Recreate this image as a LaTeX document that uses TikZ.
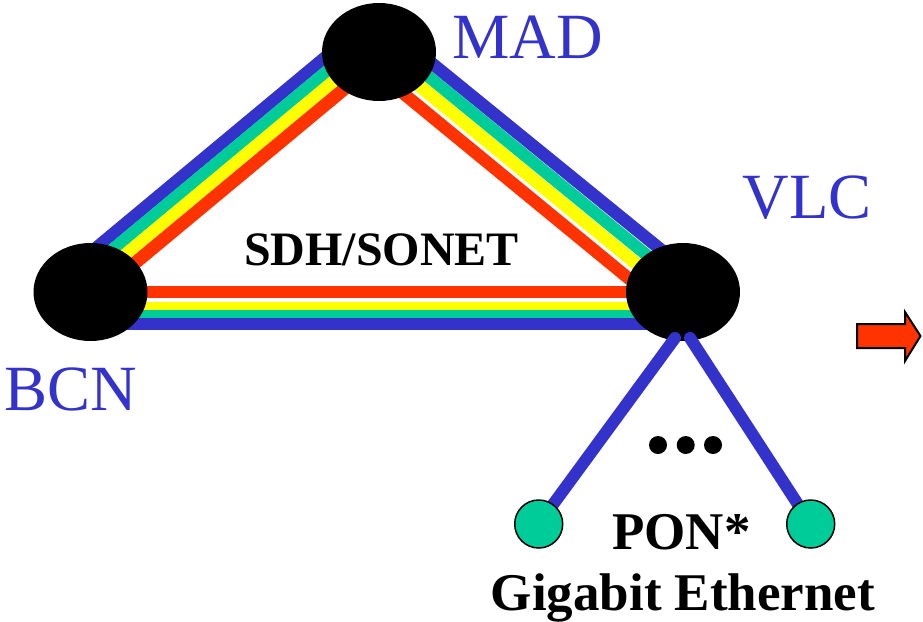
\documentclass[tikz,border=0pt]{standalone}
\usepackage{fontspec}
\setmainfont{Liberation Serif}
\usetikzlibrary{calc,shapes.geometric}
\definecolor{bandblue}{HTML}{3333CC}
\definecolor{bandgreen}{HTML}{00CC99}
\definecolor{bandyellow}{HTML}{FFFF00}
\definecolor{bandred}{HTML}{FF3300}
\pgfdeclarelayer{bands}
\pgfdeclarelayer{legs}
\pgfdeclarelayer{top}
\pgfsetlayers{bands,main,legs,top}
\tikzset{
  city/.style={ellipse,fill=black,inner sep=0pt,minimum width=114pt,minimum height=98pt},
  onu/.style={circle,draw=black,line width=1.5pt,fill=bandgreen,inner sep=0pt,minimum size=48pt},
  dotmark/.style={circle,fill=black,inner sep=0pt,minimum size=18pt},
  citylabel/.style={anchor=base,inner sep=0pt,text=bandblue,font=\fontsize{64.5}{64.5}\selectfont},
  boldlabel/.style={anchor=base,inner sep=0pt,text=black,font=\fontsize{53}{53}\selectfont\bfseries},
  band/.style={line width=#1},
  leg/.style={draw=bandblue,line width=12pt,line cap=round}
}
\newcommand{\bandAB}[6]{% from, to, offset at from, offset at to, width, colour
  \draw[band=#5,draw=#6] ($(#1.center)!#3pt!90:(#2.center)$) -- ($(#2.center)!#4pt!-90:(#1.center)$);}
\begin{document}
\begin{tikzpicture}[x=1pt,y=-1pt]
\useasboundingbox (0,0) rectangle (923,621);
\node[city] (MAD) at (379,52) {};
\node[city] (BCN) at (90.5,292) {};
\node[city] (VLC) at (683,292) {};
\begin{pgfonlayer}{bands}
  \bandAB{BCN}{MAD}{30.5}{30.5}{12}{bandblue}
  \bandAB{BCN}{MAD}{18.6}{18.6}{12}{bandgreen}
  \bandAB{BCN}{MAD}{6.6}{6.6}{12.3}{bandyellow}
  \bandAB{BCN}{MAD}{-6.2}{-6.2}{13}{bandred}
  \bandAB{MAD}{VLC}{24.6}{18.9}{12.5}{bandblue}
  \bandAB{MAD}{VLC}{12.3}{5.6}{12.2}{bandgreen}
  \bandAB{MAD}{VLC}{-0.4}{-7.75}{13}{bandyellow}
  \bandAB{MAD}{VLC}{-16.6}{-24}{12.4}{bandred}
  \bandAB{VLC}{BCN}{0}{0}{12}{bandred}
  \bandAB{VLC}{BCN}{14}{14}{8}{bandyellow}
  \bandAB{VLC}{BCN}{22}{22}{8}{bandgreen}
  \bandAB{VLC}{BCN}{32}{32}{12}{bandblue}
\end{pgfonlayer}
\coordinate (legLtop) at (675,338);
\coordinate (legRtop) at (690,338);
\begin{pgfonlayer}{top}
  \node[onu] (onuL) at (538.7,524) {};
  \node[onu] (onuR) at (810.7,524) {};
\end{pgfonlayer}
\begin{pgfonlayer}{legs}
  \draw[leg] (legLtop) -- (onuL.center);
  \draw[leg] (legRtop) -- (onuR.center);
\end{pgfonlayer}
\node[dotmark] (d1) at (658,445) {};
\node[dotmark] (d2) at (685.7,445) {};
\node[dotmark] (d3) at (713,445) {};
\draw[black,line width=2pt,fill=bandred,line join=miter]
  (857,324) -- (905,324) -- (905,312) -- (920.5,336) -- (905,361) -- (905,348) -- (857,348) -- cycle;
\node[citylabel] (lmad) at (527.5,58) {MAD};
\node[citylabel] (lbcn) at (70.5,410) {BCN};
\node[citylabel] (lvlc) at (807,218) {VLC};
\node[boldlabel,font=\fontsize{48}{48}\selectfont\bfseries] (lsdh) at (381.5,265) {SDH/SONET};
\node[boldlabel] (lpon) at (681.5,549) {PON*};
\node[boldlabel] (lgig) at (683,610) {Gigabit Ethernet};
\end{tikzpicture}
\end{document}
